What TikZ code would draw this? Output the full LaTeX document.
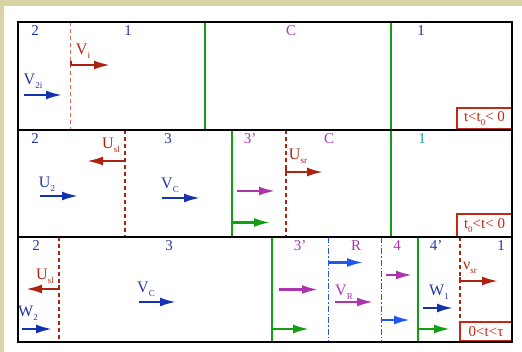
\documentclass[tikz,border=0pt]{standalone}
\usepackage{fontspec}
\setmainfont{Liberation Serif}
\usetikzlibrary{arrows.meta}
\definecolor{beige}{HTML}{D9D4A8}
\definecolor{txtblue}{HTML}{2236A6}
\definecolor{arrblue}{HTML}{1232B0}
\definecolor{darkred}{HTML}{AE2210}
\definecolor{lightred}{HTML}{DD6A5A}
\definecolor{purp}{HTML}{AE34AE}
\definecolor{grn}{HTML}{12A012}
\definecolor{brblue}{HTML}{2056F2}
\definecolor{tealone}{HTML}{22A0A8}
\definecolor{boxred}{HTML}{C22A18}
\newcommand{\lowsub}[1]{\raisebox{-0.5ex}{\fontsize{9}{9}\selectfont #1}}
\begin{document}
\begin{tikzpicture}[x=1pt,y=-1pt,
  lbl/.style={font=\fontsize{15}{15}\selectfont, inner sep=0pt},
  vlbl/.style={font=\fontsize{16}{16}\selectfont, inner sep=0pt},
  vel/.style={line width=2.2pt, -{Latex[length=16pt,width=9pt]}},
  frame/.style={line width=2.2pt, black},
  contact/.style={line width=2pt, grn},
  shockA/.style={line width=1.4pt, lightred, dash pattern=on 4pt off 3pt},
  shockB/.style={line width=2pt, darkred, dash pattern=on 4pt off 3pt},
  rarefy/.style={line width=1.7pt, brblue, dash pattern=on 6pt off 2pt on 1.5pt off 2pt},
  timebox/.style={draw=boxred, line width=1.6pt, fill=white, text=boxred,
    font=\fontsize{15}{15}\selectfont, inner sep=0pt}
]
\useasboundingbox (0,0) rectangle (522,352);
% page tint strips
\fill[beige] (0,0) rectangle (522,6);
\fill[beige] (0,0) rectangle (4,352);

% ---------- panel 1 : t < t0 < 0 ----------
\draw[shockA] (70.5,22) -- (70.5,130);
\draw[contact] (205,22) -- (205,130);
\draw[contact] (391,22) -- (391,130);
\node[lbl, text=txtblue] (r2a) at (35,31) {2};
\node[lbl, text=txtblue] (r1a) at (128,31) {1};
\node[lbl, text=purp] (rCa) at (291,31) {C};
\node[lbl, text=txtblue] (r1b) at (421,31) {1};
\draw[vel, darkred] (71,61) -- (71,65) -- (110,65);
\node[vlbl, text=darkred] (Vi) at (83,51) {V\lowsub{i}};
\draw[vel, arrblue] (24,95) -- (62,95);
\node[vlbl, text=txtblue] (V2i) at (33,81) {V\lowsub{2i}};
\node[timebox, minimum width=55pt, minimum height=21pt] (tb1) at (484.5,118.5) {t<t\lowsub{0}< 0};

% ---------- panel 2 : t0 < t < 0 ----------
\draw[shockB] (125,130) -- (125,237);
\draw[contact] (232,130) -- (232,237);
\draw[shockB] (285.5,130) -- (285.5,237);
\draw[contact] (391,130) -- (391,237);
\node[lbl, text=txtblue] (r2b) at (35,139) {2};
\node[lbl, text=txtblue] (r3b) at (168,139) {3};
\node[lbl, text=purp] (r3pb) at (250,139) {3’};
\node[lbl, text=purp] (rCb) at (329,139) {C};
\node[lbl, text=tealone] (r1c) at (422,139) {1};
\draw[vel, darkred] (125,161) -- (87,161);
\node[vlbl, text=darkred] (Usl) at (111,145) {U\lowsub{sl}};
\draw[vel, arrblue] (40,196) -- (78,196);
\node[vlbl, text=txtblue] (U2) at (47,184) {U\lowsub{2}};
\draw[vel, arrblue] (162,198) -- (200,198);
\node[vlbl, text=txtblue] (VC) at (170,185) {V\lowsub{C}};
\draw[vel, purp] (237,191) -- (275,191);
\draw[vel, grn] (232,222.5) -- (270,222.5);
\draw[vel, darkred] (286,167) -- (286,172) -- (323,172);
\node[vlbl, text=darkred] (Usr) at (298,156) {U\lowsub{sr}};
\node[timebox, minimum width=55pt, minimum height=23pt] (tb2) at (484.5,225.5) {t\lowsub{0}<t< 0};

% ---------- panel 3 : 0 < t < tau ----------
\draw[shockB] (59,237) -- (59,342);
\draw[contact] (272,237) -- (272,342);
\draw[rarefy] (328.5,237) -- (328.5,342);
\draw[rarefy] (381.5,237) -- (381.5,342);
\draw[contact] (418,237) -- (418,342);
\draw[shockB] (460,237) -- (460,342);
\node[lbl, text=txtblue] (r2c) at (36,246) {2};
\node[lbl, text=txtblue] (r3c) at (169,246) {3};
\node[lbl, text=purp] (r3pc) at (300,246) {3’};
\node[lbl, text=purp] (rR) at (356,246) {R};
\node[lbl, text=purp] (r4) at (397,246) {4};
\node[lbl, text=txtblue] (r4p) at (436,246) {4’};
\node[lbl, text=txtblue] (r1d) at (501,246) {1};
\draw[vel, darkred] (59,285) -- (59,289) -- (26,289);
\node[vlbl, text=darkred] (Usl2) at (45,276) {U\lowsub{sl}};
\draw[vel, arrblue] (22,329) -- (52,329);
\node[vlbl, text=txtblue] (W2) at (28,313) {W\lowsub{2}};
\draw[vel, arrblue] (139,302) -- (176,302);
\node[vlbl, text=txtblue] (VC2) at (146,289) {V\lowsub{C}};
\draw[vel, grn] (272,329) -- (309,329);
\draw[vel, purp] (279,289.5) -- (318,289.5);
\draw[vel, brblue] (328.5,262.5) -- (363,262.5);
\draw[vel, purp] (335,302) -- (373,302);
\node[vlbl, text=purp] (VR) at (344,292) {V\lowsub{R}};
\draw[vel, brblue] (381.5,320) -- (410,320);
\draw[vel, purp] (386,275) -- (412,275);
\draw[vel, grn] (418,329) -- (450,329);
\draw[vel, arrblue] (423,308) -- (453,308);
\node[vlbl, text=txtblue] (W1) at (439,292) {W\lowsub{1}};
\draw[vel, darkred] (460,277) -- (460,281) -- (498,281);
\node[vlbl, text=darkred] (nusr) at (470,268) {ν\lowsub{sr}};
\node[timebox, minimum width=52pt, minimum height=19pt] (tb3) at (486,331.5) {0<t<τ};

% panel frames on top
\draw[frame] (18,22) rectangle (512,342);
\draw[frame] (18,130) -- (512,130);
\draw[frame] (18,237) -- (512,237);
\end{tikzpicture}
\end{document}
